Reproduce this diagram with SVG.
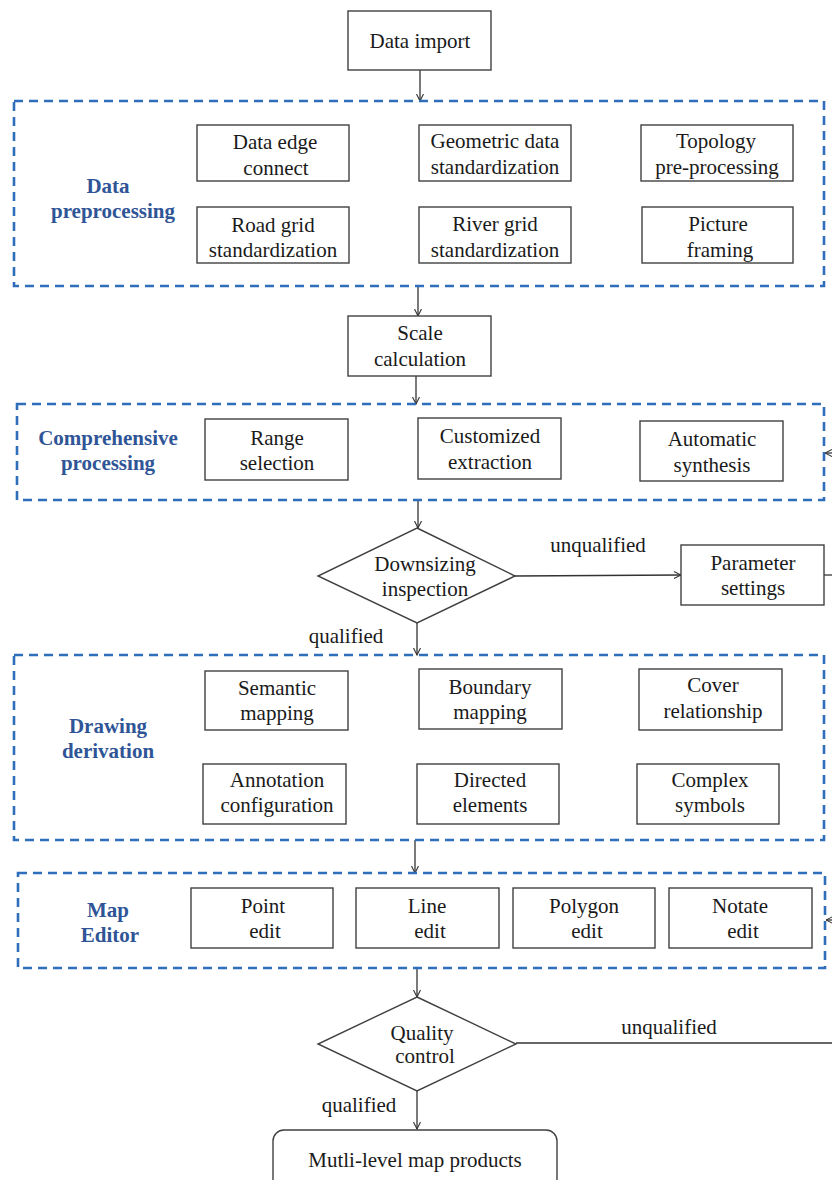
<svg xmlns="http://www.w3.org/2000/svg" width="832" height="1180" viewBox="0 0 832 1180">
<style>
.box{fill:#fff;stroke:#404040;stroke-width:1.4}
.grp{fill:none;stroke:#2F6EBA;stroke-width:2.6;stroke-dasharray:9 6}
.t{font-family:"Liberation Serif","Times New Roman",serif;font-size:21px;fill:#1a1a1a;text-anchor:middle}
.lbl{font-family:"Liberation Serif","Times New Roman",serif;font-size:21px;font-weight:bold;fill:#2F5597;text-anchor:middle}
.c{fill:none;stroke:#333;stroke-width:1.3}
</style>
<defs>
<marker id="ah" viewBox="0 0 8 8" refX="7.5" refY="4" markerWidth="8" markerHeight="8" markerUnits="userSpaceOnUse" orient="auto">
<path d="M0.5,0.5 L7.5,4 L0.5,7.5" fill="none" stroke="#333" stroke-width="1.1"/>
</marker>
</defs>
<rect width="832" height="1180" fill="#fff"/>

<g id="connectors">
<line class="c" x1="420" y1="70" x2="420" y2="101" marker-end="url(#ah)"/>
<line class="c" x1="418" y1="286" x2="418" y2="316" marker-end="url(#ah)"/>
<line class="c" x1="416" y1="376" x2="416" y2="404" marker-end="url(#ah)"/>
<line class="c" x1="418" y1="500" x2="418" y2="528" marker-end="url(#ah)"/>
<line class="c" x1="417" y1="623" x2="417" y2="655" marker-end="url(#ah)"/>
<line class="c" x1="415" y1="840" x2="415" y2="873" marker-end="url(#ah)"/>
<line class="c" x1="417" y1="968" x2="417" y2="997" marker-end="url(#ah)"/>
<line class="c" x1="417" y1="1091" x2="417" y2="1129" marker-end="url(#ah)"/>
<line class="c" x1="515" y1="576" x2="681" y2="575" marker-end="url(#ah)"/>
<line class="c" x1="824" y1="575" x2="832" y2="575"/>
<line class="c" x1="836" y1="453" x2="825" y2="453" marker-end="url(#ah)"/>
<line class="c" x1="516" y1="1043" x2="832" y2="1043"/>
<line class="c" x1="836" y1="920" x2="826" y2="920" marker-end="url(#ah)"/>
<text class="t" x="598" y="552">unqualified</text>
<text class="t" x="346" y="643">qualified</text>
<text class="t" x="669" y="1034">unqualified</text>
<text class="t" x="359" y="1112">qualified</text>
</g>

<g id="data-import">
<rect class="box" x="348" y="11" width="143" height="59"/>
<text class="t" x="420" y="48">Data import</text>
</g>

<g id="data-preprocessing">
<rect class="grp" x="14" y="101" width="810" height="185"/>
<text class="lbl" x="108" y="193">Data</text>
<text class="lbl" x="113" y="218">preprocessing</text>
</g>
<g id="data-edge-connect">
<rect class="box" x="197" y="125" width="152" height="56"/>
<text class="t" x="275" y="149">Data edge</text>
<text class="t" x="276" y="175">connect</text>
</g>
<g id="geometric-data">
<rect class="box" x="419" y="125" width="152" height="56"/>
<text class="t" x="495" y="148">Geometric data</text>
<text class="t" x="495" y="174">standardization</text>
</g>
<g id="topology">
<rect class="box" x="641" y="125" width="152" height="56"/>
<text class="t" x="716" y="148">Topology</text>
<text class="t" x="717" y="174">pre-processing</text>
</g>
<g id="road-grid">
<rect class="box" x="197" y="207" width="152" height="56"/>
<text class="t" x="273" y="232">Road grid</text>
<text class="t" x="273" y="257">standardization</text>
</g>
<g id="river-grid">
<rect class="box" x="419" y="207" width="152" height="56"/>
<text class="t" x="495" y="231">River grid</text>
<text class="t" x="495" y="257">standardization</text>
</g>
<g id="picture-framing">
<rect class="box" x="642" y="207" width="151" height="56"/>
<text class="t" x="718" y="231">Picture</text>
<text class="t" x="720" y="257">framing</text>
</g>

<g id="scale-calculation">
<rect class="box" x="348" y="316" width="143" height="60"/>
<text class="t" x="420" y="340">Scale</text>
<text class="t" x="420" y="366">calculation</text>
</g>

<g id="comprehensive-processing">
<rect class="grp" x="17" y="404" width="807" height="96"/>
<text class="lbl" x="108" y="445">Comprehensive</text>
<text class="lbl" x="108" y="470">processing</text>
</g>
<g id="range-selection">
<rect class="box" x="205" y="419" width="143" height="61"/>
<text class="t" x="277" y="445">Range</text>
<text class="t" x="277" y="470">selection</text>
</g>
<g id="customized-extraction">
<rect class="box" x="418" y="418" width="143" height="61"/>
<text class="t" x="490" y="443">Customized</text>
<text class="t" x="490" y="469">extraction</text>
</g>
<g id="automatic-synthesis">
<rect class="box" x="640" y="421" width="143" height="60"/>
<text class="t" x="712" y="446">Automatic</text>
<text class="t" x="712" y="472">synthesis</text>
</g>

<g id="downsizing-inspection">
<polygon class="box" points="417,528 515,576 417,623 318,576"/>
<text class="t" x="425" y="571">Downsizing</text>
<text class="t" x="425" y="596">inspection</text>
</g>
<g id="parameter-settings">
<rect class="box" x="681" y="545" width="143" height="60"/>
<text class="t" x="753" y="570">Parameter</text>
<text class="t" x="753" y="595">settings</text>
</g>

<g id="drawing-derivation">
<rect class="grp" x="14" y="655" width="810" height="185"/>
<text class="lbl" x="108" y="733">Drawing</text>
<text class="lbl" x="108" y="758">derivation</text>
</g>
<g id="semantic-mapping">
<rect class="box" x="205" y="671" width="143" height="59"/>
<text class="t" x="277" y="695">Semantic</text>
<text class="t" x="277" y="720">mapping</text>
</g>
<g id="boundary-mapping">
<rect class="box" x="419" y="669" width="143" height="60"/>
<text class="t" x="490" y="694">Boundary</text>
<text class="t" x="490" y="719">mapping</text>
</g>
<g id="cover-relationship">
<rect class="box" x="639" y="669" width="143" height="61"/>
<text class="t" x="713" y="692">Cover</text>
<text class="t" x="713" y="718">relationship</text>
</g>
<g id="annotation-configuration">
<rect class="box" x="203" y="764" width="143" height="60"/>
<text class="t" x="277" y="787">Annotation</text>
<text class="t" x="277" y="812">configuration</text>
</g>
<g id="directed-elements">
<rect class="box" x="417" y="764" width="142" height="60"/>
<text class="t" x="490" y="787">Directed</text>
<text class="t" x="490" y="812">elements</text>
</g>
<g id="complex-symbols">
<rect class="box" x="637" y="764" width="142" height="60"/>
<text class="t" x="710" y="787">Complex</text>
<text class="t" x="710" y="812">symbols</text>
</g>

<g id="map-editor">
<rect class="grp" x="18" y="873" width="807" height="95"/>
<text class="lbl" x="108" y="917">Map</text>
<text class="lbl" x="110" y="942">Editor</text>
</g>
<g id="point-edit">
<rect class="box" x="191" y="888" width="142" height="60"/>
<text class="t" x="263" y="913">Point</text>
<text class="t" x="265" y="938">edit</text>
</g>
<g id="line-edit">
<rect class="box" x="356" y="888" width="143" height="60"/>
<text class="t" x="427" y="913">Line</text>
<text class="t" x="430" y="938">edit</text>
</g>
<g id="polygon-edit">
<rect class="box" x="513" y="888" width="142" height="60"/>
<text class="t" x="584" y="913">Polygon</text>
<text class="t" x="587" y="938">edit</text>
</g>
<g id="notate-edit">
<rect class="box" x="669" y="888" width="143" height="60"/>
<text class="t" x="740" y="913">Notate</text>
<text class="t" x="743" y="938">edit</text>
</g>

<g id="quality-control">
<polygon class="box" points="417,997 516,1044 417,1091 318,1044"/>
<text class="t" x="422" y="1040">Quality</text>
<text class="t" x="425" y="1063">control</text>
</g>

<g id="multi-level-map-products">
<rect class="box" x="273" y="1130" width="284" height="80" rx="11" ry="11"/>
<text class="t" x="415" y="1167">Mutli-level map products</text>
</g>
</svg>
